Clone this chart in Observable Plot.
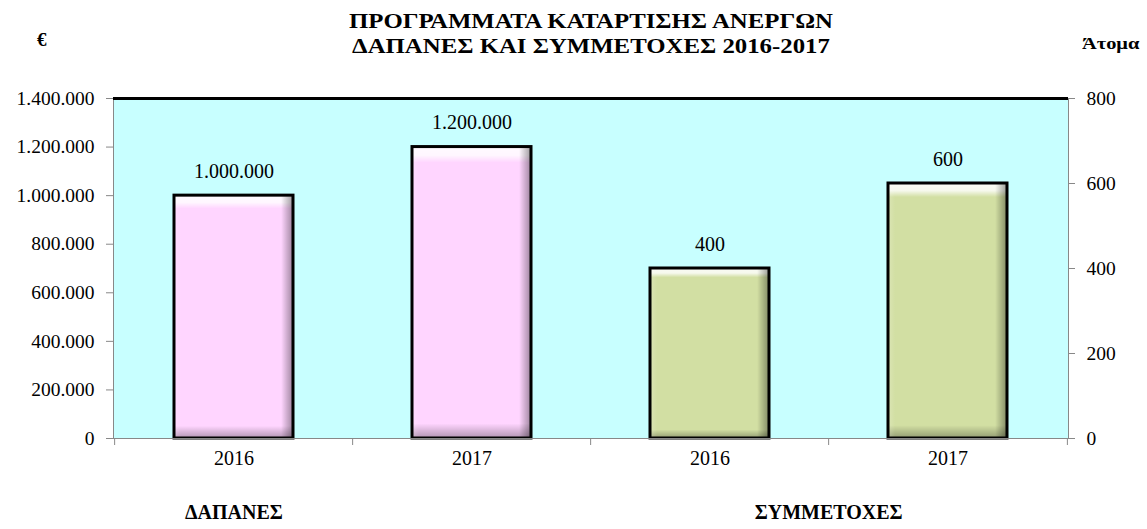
<!DOCTYPE html>
<html><head><meta charset="utf-8">
<script src="https://cdn.jsdelivr.net/npm/d3@7"></script>
<script src="https://cdn.jsdelivr.net/npm/@observablehq/plot@0.6"></script>
<style>
body{margin:0;background:#fff;font-family:"Liberation Serif","Times New Roman",serif;color:#000;}
#header{position:relative;width:1147px;height:60px;}
#title{position:absolute;left:0;width:1182px;top:9px;text-align:center;font-weight:bold;font-size:20px;line-height:25px;transform:scaleX(1.24);transform-origin:591px 0;}
#eur{position:absolute;left:37px;top:29px;font-weight:bold;font-size:19px;}
#atoma{position:absolute;left:1082px;top:34px;font-weight:bold;font-size:17px;transform:scaleX(1.2);transform-origin:0 0;}
</style></head><body>
<div id="header">
  <div id="title">ΠΡΟΓΡΑΜΜΑΤΑ ΚΑΤΑΡΤΙΣΗΣ ΑΝΕΡΓΩΝ<br>ΔΑΠΑΝΕΣ ΚΑΙ ΣΥΜΜΕΤΟΧΕΣ 2016-2017</div>
  <div id="eur">€</div>
  <div id="atoma">Άτομα</div>
</div>
<div id="chart"></div>
<script>
const groups = ["ΔΑΠΑΝΕΣ", "ΣΥΜΜΕΤΟΧΕΣ"];
const years = ["2016", "2017"];
const spending = [1000000, 1200000];
const participants = [400, 600];
const leftTicks = [0, 200000, 400000, 600000, 800000, 1000000, 1200000, 1400000];
const rightTicks = [0, 200, 400, 600, 800];
const groupColors = ["#ffd5ff", "#d2dfa3"];

const leftMax = 1400000, rightMax = 800, k = leftMax / rightMax;
const fmt = d3.formatLocale({decimal: ",", thousands: ".", grouping: [3], currency: ["", "€"]}).format(",");
const rows = [
  ...years.map((y, i) => ({group: groups[0], year: y, key: groups[0] + " " + y, value: spending[i], yv: spending[i], color: groupColors[0]})),
  ...years.map((y, i) => ({group: groups[1], year: y, key: groups[1] + " " + y, value: participants[i], yv: participants[i] * k, color: groupColors[1]}))
];
const keys = rows.map(r => r.key);
const W = 1147, mL = 113, mR = 79, bw = (W - mL - mR) / keys.length;

const plot = Plot.plot({
  width: W, height: 469,
  marginTop: 38, marginBottom: 91, marginLeft: mL, marginRight: mR,
  style: {fontFamily: "Liberation Serif, Times New Roman, serif", fontSize: "19px", color: "#000", background: "#fff", overflow: "visible"},
  x: {domain: keys, paddingInner: 0.5, paddingOuter: 0.25, axis: null, label: null},
  y: {domain: [0, leftMax], axis: null, label: null},
  marks: [
    Plot.frame({fill: "#c8ffff"}),
    Plot.barY(rows, {x: "key", y: "yv", fill: "color", inset: 0}),
    Plot.barY(rows, {x: "key", y: "yv", fill: "url(#bevV)", inset: 0}),
    Plot.barY(rows, {x: "key", y: "yv", fill: "url(#bevH)", inset: 0}),
    Plot.barY(rows, {x: "key", y: "yv", fill: "none", stroke: "#000", strokeWidth: 3, inset: 0}),
    Plot.frame({stroke: "#888"}),
    Plot.ruleY([leftMax], {stroke: "#000", strokeWidth: 3}),
    Plot.axisY(leftTicks, {anchor: "left", tickFormat: fmt, tickSize: 7, tickPadding: 12, stroke: "#888", fill: "#000", label: null, fontSize: 19.5}),
    Plot.axisY(rightTicks.map(t => t * k), {anchor: "right", tickFormat: d => fmt(d / k), tickSize: 6, tickPadding: 12, stroke: "#888", fill: "#000", label: null, fontSize: 19.5}),
    Plot.ruleX(keys, {x: d => d, dx: -bw / 2, y1: 0, y2: 0, insetBottom: -7, stroke: "#888"}),
    Plot.ruleX([keys[keys.length - 1]], {x: d => d, dx: bw / 2, y1: 0, y2: 0, insetBottom: -7, stroke: "#888"}),
    Plot.text(rows, {x: "key", text: "year", frameAnchor: "bottom", dy: 26, fontSize: 20}),
    Plot.text(rows, {x: "key", y: "yv", text: d => fmt(d.value), dy: -24, fontSize: 20}),
    Plot.text([groups[0]], {x: () => keys[0], text: d => d, frameAnchor: "bottom", dy: 80, fontSize: 20, fontWeight: "bold"}),
    Plot.text([groups[1]], {x: () => keys[3], text: d => d, dx: -bw / 2, frameAnchor: "bottom", dy: 80, fontSize: 20, fontWeight: "bold"})
  ]
});

const svg = d3.select(plot);
const defs = svg.insert("defs", ":first-child");
const gv = defs.append("linearGradient").attr("id", "bevV").attr("x1", 0).attr("y1", 0).attr("x2", 0).attr("y2", 1);
[[0, "#fff", 0.9], [0.03, "#fff", 0.8], [0.055, "#fff", 0], [0.95, "#000", 0], [1, "#000", 0.3]].forEach(([o, c, a]) =>
  gv.append("stop").attr("offset", o).attr("stop-color", c).attr("stop-opacity", a));
const gh = defs.append("linearGradient").attr("id", "bevH").attr("x1", 0).attr("y1", 0).attr("x2", 1).attr("y2", 0);
[[0, "#fff", 0.2], [0.06, "#fff", 0], [0.9, "#000", 0], [1, "#000", 0.38]].forEach(([o, c, a]) =>
  gh.append("stop").attr("offset", o).attr("stop-color", c).attr("stop-opacity", a));

document.getElementById("chart").appendChild(plot);
</script>
</body></html>
